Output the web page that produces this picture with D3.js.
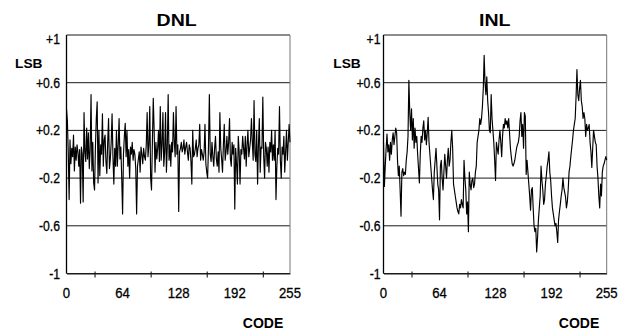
<!DOCTYPE html>
<html><head><meta charset="utf-8">
<script src="https://cdn.jsdelivr.net/npm/d3@7"></script>
<style>
html,body{margin:0;padding:0;background:#fff;}
svg{display:block;}
text{font-family:"Liberation Sans",Arial,Helvetica,sans-serif;fill:#000;}
</style></head>
<body>
<svg id="c" width="629" height="332"></svg>
<script>
// ---------- data ----------
const xTickLabels = [0, 64, 128, 192, 255];
const xTickMarks = [32, 96, 160, 224];
const yTicks = [1, 0.6, 0.2, -0.2, -0.6, -1];
const yTickLabels = ["+1", "+0.6", "+0.2", "-0.2", "-0.6", "-1"];
const titles = ["DNL", "INL"];
const yUnit = "LSB";
const xUnit = "CODE";

const dnl = [
 0.38, 0.28, 0.02,-0.38, 0.12,-0.08, 0.05,-0.02, 0.16,-0.14, 0.06,-0.05, 0.08, 0.02,-0.10, 0.04,
-0.41, 0.06, 0.00,-0.40, 0.35, 0.02,-0.06, 0.22,-0.04, 0.18,-0.12, 0.04, 0.50,-0.14, 0.10,-0.24,
-0.30, 0.06, 0.30, 0.44,-0.24, 0.20,-0.18, 0.08, 0.00, 0.34,-0.10, 0.12, 0.16,-0.06,-0.16, 0.10,
 0.30,-0.12,-0.04, 0.10, 0.34,-0.02,-0.25, 0.05,-0.10, 0.20,-0.10, 0.08, 0.30,-0.04, 0.06,-0.20,
-0.50, 0.00, 0.15, 0.26,-0.02, 0.20,-0.10, 0.04,-0.20, 0.06, 0.00, 0.10,-0.05, 0.04, 0.00,-0.12,
-0.50,-0.10,-0.04, 0.02,-0.15, 0.06, 0.00,-0.08, 0.05,-0.02,-0.05, 0.08, 0.35,-0.02, 0.08, 0.40,
-0.20,-0.30, 0.10, 0.47, 0.20,-0.15, 0.10,-0.04, 0.05, 0.20,-0.06, 0.40,-0.05, 0.08, 0.35,-0.10,
 0.02, 0.35,-0.15, 0.06, 0.50,-0.05, 0.08,-0.10, 0.10, 0.02, 0.35, 0.10,-0.02, 0.40, 0.00, 0.08,
-0.48, 0.02, 0.05, 0.10, 0.02, 0.05, 0.12, 0.00, 0.06, 0.10, 0.02,-0.05, 0.08, 0.05,-0.06,-0.25,
 0.20,-0.02, 0.00, 0.05, 0.12,-0.02, 0.05, 0.08, 0.25,-0.05, 0.04, 0.00,-0.05, 0.02, 0.25,-0.08,
-0.15,-0.20, 0.06, 0.50, 0.00,-0.06, 0.10,-0.02,-0.10, 0.05, 0.15,-0.04,-0.10, 0.02,-0.15, 0.35,
 0.05,-0.04,-0.15, 0.08, 0.25,-0.05, 0.02, 0.15, 0.00, 0.10, 0.30,-0.04,-0.10, 0.10, 0.00, 0.08,
-0.46, 0.05,-0.08,-0.25, 0.15, 0.02,-0.25, 0.04, 0.00, 0.15, 0.05,-0.04, 0.15,-0.10, 0.08, 0.20,
-0.02, 0.05, 0.12, 0.30, 0.10,-0.05, 0.45, 0.00,-0.06, 0.20,-0.25, 0.08, 0.30,-0.15, 0.06, 0.05,
 0.48,-0.02,-0.20, 0.10, 0.05,-0.10, 0.06,-0.15, 0.10, 0.02, 0.20,-0.05, 0.08,-0.05, 0.20,-0.38,
-0.10, 0.05, 0.00, 0.40,-0.05,-0.20, 0.06, 0.00, 0.15,-0.15, 0.02, 0.20,-0.05, 0.10, 0.25, 0.10
];

const inl = [
 0.10,-0.27,-0.10, 0.05, 0.17, 0.02, 0.08,-0.05, 0.10, 0.00, 0.12, 0.18, 0.08, 0.15, 0.22, 0.18,
-0.05,-0.18,-0.10,-0.30,-0.52,-0.15,-0.12,-0.18,-0.15,-0.17,-0.05, 0.02, 0.15, 0.62, 0.35, 0.20,
 0.38, 0.12, 0.30, 0.05, 0.22, 0.10, 0.15, 0.00,-0.12,-0.24, 0.00, 0.15, 0.10, 0.22, 0.28, 0.12,
 0.20, 0.08, 0.18, 0.31, 0.10, 0.00,-0.10,-0.20,-0.30,-0.38,-0.15,-0.05, 0.05,-0.10,-0.25,-0.30,
-0.55,-0.10,-0.05,-0.20,-0.30,-0.15, 0.00,-0.10,-0.20,-0.05, 0.05,-0.10,-0.05, 0.10, 0.20, 0.05,
-0.25,-0.30,-0.35,-0.40,-0.45,-0.48,-0.50,-0.42,-0.45,-0.38,-0.42,-0.45,-0.05,-0.20,-0.30,-0.50,
-0.40,-0.65,-0.15,-0.25,-0.30,-0.22,-0.20,-0.28,-0.25,-0.15,-0.10, 0.10, 0.15, 0.20, 0.30, 0.25,
 0.30, 0.40, 0.55, 0.83, 0.60, 0.50, 0.65, 0.45, 0.35, 0.20, 0.18, 0.50, 0.30, 0.20, 0.10,-0.05,
-0.22, 0.10, 0.05, 0.00, 0.12, 0.20, 0.10,-0.02, 0.15, 0.25, 0.22, 0.30, 0.25, 0.28, 0.22, 0.30,
 0.18, 0.05,-0.02,-0.08,-0.10,-0.08,-0.05, 0.00, 0.05, 0.08, 0.10, 0.15, 0.28, 0.35, 0.15, 0.25,
 0.05, 0.35, 0.32,-0.17,-0.05,-0.15,-0.25,-0.35,-0.47,-0.30,-0.28,-0.45,-0.60,-0.65,-0.62,-0.82,
-0.70,-0.55,-0.45,-0.35,-0.10,-0.22,-0.30,-0.42,-0.38,-0.25,-0.18,-0.10,-0.05, 0.02,-0.15,-0.22,
-0.35,-0.45,-0.50,-0.55,-0.60,-0.58,-0.65,-0.74,-0.55,-0.48,-0.42,-0.35,-0.30,-0.20,-0.28,-0.32,
-0.36,-0.45,-0.40,-0.30,-0.15,-0.10,-0.02, 0.05, 0.12, 0.20, 0.25, 0.30, 0.48, 0.71, 0.50, 0.45,
 0.55, 0.62, 0.45, 0.40, 0.30, 0.35, 0.30, 0.15, 0.25, 0.20, 0.22, 0.25, 0.10, 0.02,-0.11, 0.05,
 0.20, 0.15, 0.10, 0.08,-0.10,-0.20,-0.35,-0.45,-0.25,-0.35,-0.15,-0.10,-0.08,-0.05,-0.02,-0.05
];

// ---------- drawing ----------
const svg = d3.select("#c");

function stretch(sel, factor){
  sel.each(function(){
    const len = this.getComputedTextLength();
    d3.select(this).attr("textLength", len*factor).attr("lengthAdjust","spacingAndGlyphs");
  });
}

function panel(cfg, data, title){
  const g = svg.append("g");
  const x = d3.scaleLinear().domain([0,255]).range([cfg.x0, cfg.x1]);
  const y = d3.scaleLinear().domain([-1,1]).range([273.5, 35]);

  // horizontal grid lines
  g.selectAll("line.grid").data(yTicks).enter().append("line")
    .attr("x1", cfg.x0).attr("x2", cfg.x1)
    .attr("y1", d=>y(d)).attr("y2", d=>y(d))
    .attr("stroke", "#1a1a1a").attr("stroke-width", 1);

  // right border
  g.append("line").attr("x1", cfg.x1).attr("x2", cfg.x1)
    .attr("y1", y(1)).attr("y2", y(-1)).attr("stroke", "#777").attr("stroke-width", 1);

  // bottom tick marks via axis
  const ax = d3.axisBottom(x).tickValues(xTickMarks).tickFormat("").tickSizeInner(4).tickSizeOuter(0);
  const axg = g.append("g").attr("transform", `translate(0,${y(-1)})`).call(ax);
  axg.select(".domain").attr("stroke", "#1a1a1a");
  axg.selectAll(".tick line").attr("stroke", "#1a1a1a").attr("y1", -2).attr("stroke-width", 1.1);

  // data
  g.append("path").datum(data)
    .attr("fill", "none").attr("stroke", "#000").attr("stroke-width", 1.15)
    .attr("stroke-linejoin", "round")
    .attr("d", d3.line().x((d,i)=>x(i)).y(d=>y(d)));

  // left axis
  g.append("line").attr("x1", cfg.x0).attr("x2", cfg.x0)
    .attr("y1", y(1)).attr("y2", y(-1)).attr("stroke", "#000").attr("stroke-width", 1.3);

  // y tick labels
  const yl = g.selectAll("text.yl").data(yTicks).enter().append("text")
    .attr("x", cfg.labelRight).attr("y", d=> d===1 ? y(d)+8.5 : y(d)+5)
    .attr("text-anchor", "end").attr("font-size", 14)
    .attr("stroke", "#000").attr("stroke-width", 0.3)
    .text((d,i)=>yTickLabels[i]);
  stretch(yl, 0.87);

  // x tick labels
  const xl = g.selectAll("text.xl").data(xTickLabels).enter().append("text")
    .attr("x", d=>x(d)).attr("y", 297.5)
    .attr("text-anchor", "middle").attr("font-size", 15.5)
    .attr("stroke", "#000").attr("stroke-width", 0.3)
    .text(d=>d);
  stretch(xl, 0.85);

  // title
  const t = g.append("text").attr("x", cfg.titleX).attr("y", 25.5)
    .attr("text-anchor", "middle").attr("font-size", 16).attr("font-weight", "bold").text(title);
  stretch(t, 1.22);

  // LSB
  const l = g.append("text").attr("x", cfg.lsbX).attr("y", 68)
    .attr("font-size", 12.5).attr("font-weight", "bold").text(yUnit);
  stretch(l, 1.1);

  // CODE
  g.append("text").attr("x", cfg.codeX).attr("y", 328)
    .attr("text-anchor", "middle").attr("font-size", 14).attr("font-weight", "bold").text(xUnit);
}

panel({x0:66.5, x1:290, labelRight:60, titleX:176.7, lsbX:15, codeX:263}, dnl, titles[0]);
panel({x0:383.5, x1:606.7, labelRight:380.5, titleX:494.7, lsbX:333.3, codeX:579}, inl, titles[1]);
</script>
</body></html>
